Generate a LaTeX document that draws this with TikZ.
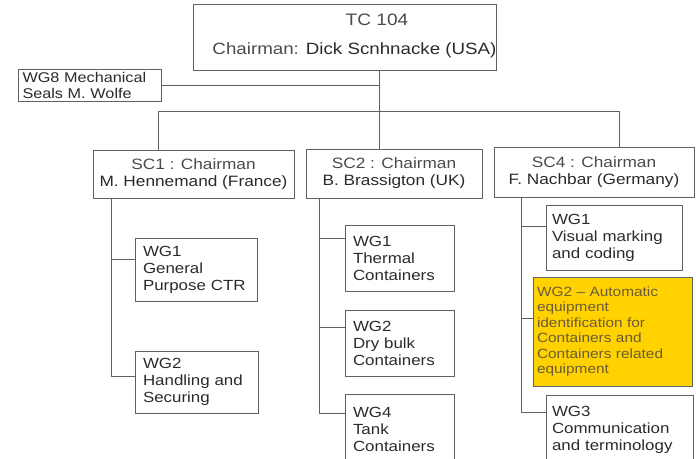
\documentclass[tikz,border=0pt]{standalone}
\usepackage{fontspec}
\setmainfont{Liberation Sans}
\newfontfamily\arw[FakeStretch=1.15]{Liberation Sans}
\definecolor{linec}{HTML}{606060}
\definecolor{txt}{HTML}{2A2A2A}
\definecolor{txtl}{HTML}{4A4A4A}
\definecolor{gold}{HTML}{FFD200}
\definecolor{goldtxt}{HTML}{6A5C3A}
\tikzset{
  box/.style={draw=linec, line width=1pt, rectangle, inner sep=0pt},
  conn/.style={draw=linec, line width=1pt},
  scbox/.style={box, align=center, text=txt, font=\arw\fontsize{15}{17}\selectfont},
  wgbox/.style={box, align=left, text=txt, font=\arw\fontsize{14.7}{17}\selectfont},
}
\begin{document}
\begin{tikzpicture}[x=1pt,y=-1pt]
\useasboundingbox (0,0) rectangle (696,458);
\clip (0,0) rectangle (696,458);
% top
\node[box, minimum width=303pt, minimum height=66pt] (tc) at (344.5,37) {};
\node[anchor=base, text=txtl, font=\arw\fontsize{16.6}{19}\selectfont] (tct) at (377,25) {TC 104};
\node[anchor=base, text=txt, font=\arw\fontsize{16.3}{19}\selectfont] (tcc) at (354.5,54) {\textcolor{txtl}{Chairman:} Dick Scnhnacke (USA)};
\node[box, minimum width=143pt, minimum height=32pt, text width=134pt, inner xsep=4.5pt, align=left, text=txt, font=\arw\fontsize{14.1}{16}\selectfont] (wg8) at (89.5,85) {WG8 Mechanical\\Seals M. Wolfe};
% SC boxes
\node[scbox, minimum width=201pt, minimum height=48pt] (sc1) at (193.5,174) {\textcolor{txtl}{SC1 : Chairman}\\M. Hennemand (France)};
\node[scbox, minimum width=176pt, minimum height=49pt] (sc2) at (394,173.5) {\textcolor{txtl}{SC2 : Chairman}\\B. Brassigton (UK)};
\node[scbox, minimum width=200pt, minimum height=50pt] (sc4) at (594,172) {\textcolor{txtl}{SC4 : Chairman}\\F. Nachbar (Germany)};
% SC1 WGs
\node[wgbox, minimum width=122pt, minimum height=63pt, text width=106pt, inner xsep=8pt] (s1w1) at (196,269.5) {WG1\\General\\Purpose CTR};
\node[wgbox, minimum width=123pt, minimum height=62pt, text width=107pt, inner xsep=8pt] (s1w2) at (196.5,382) {WG2\\Handling and\\Securing};
% SC2 WGs
\node[wgbox, minimum width=109pt, minimum height=66pt, text width=93pt, inner xsep=8pt] (s2w1) at (399.5,258) {WG1\\Thermal\\Containers};
\node[wgbox, minimum width=109pt, minimum height=66pt, text width=93pt, inner xsep=8pt] (s2w2) at (399.5,343) {WG2\\Dry bulk\\Containers};
\node[wgbox, minimum width=109pt, minimum height=70pt, text width=93pt, inner xsep=8pt] (s2w4) at (399.5,429) {WG4\\Tank\\Containers};
% SC4 WGs
\node[wgbox, minimum width=136pt, minimum height=65pt, text width=124pt, inner xsep=6pt] (s4w1) at (614,237.5) {WG1\\Visual marking\\and coding};
\node[box, fill=gold, minimum width=159pt, minimum height=109pt, text width=151pt, inner xsep=4pt, align=left, text=goldtxt, font=\arw\fontsize{13.4}{15.5}\selectfont] (s4w2) at (612.5,331.5) {WG2 – Automatic\\equipment\\identification for\\Containers and\\Containers related\\equipment};
\node[wgbox, minimum width=147pt, minimum height=70pt, text width=135pt, inner xsep=6pt] (s4w3) at (619.5,430) {WG3\\Communication\\and terminology};
% connectors
\coordinate (tcx) at (379,0);
\coordinate (busL) at (158,111);
\coordinate (busR) at (619,111);
\draw[conn] (tc.south -| tcx) -- (sc2.north -| tcx);
\draw[conn] (wg8.east) -- (wg8.east -| tcx);
\draw[conn] (sc1.north -| busL) -- (busL) -- (busR) -- (sc4.north -| busR);
% SC1 trunk
\coordinate (t1) at (111,0);
\draw[conn] (sc1.south -| t1) -- (t1 |- 0,376) -- (s1w2.west |- 0,376);
\draw[conn] (t1 |- 0,259) -- (s1w1.west |- 0,259);
% SC2 trunk
\coordinate (t2) at (319,0);
\draw[conn] (sc2.south -| t2) -- (t2 |- 0,413) -- (s2w4.west |- 0,413);
\draw[conn] (t2 |- 0,238) -- (s2w1.west |- 0,238);
\draw[conn] (t2 |- 0,327) -- (s2w2.west |- 0,327);
% SC4 trunk
\coordinate (t4) at (521,0);
\draw[conn] (sc4.south -| t4) -- (t4 |- 0,412) -- (s4w3.west |- 0,412);
\draw[conn] (t4 |- 0,226) -- (s4w1.west |- 0,226);
\draw[conn] (t4 |- 0,318) -- (s4w2.west |- 0,318);
\end{tikzpicture}
\end{document}
